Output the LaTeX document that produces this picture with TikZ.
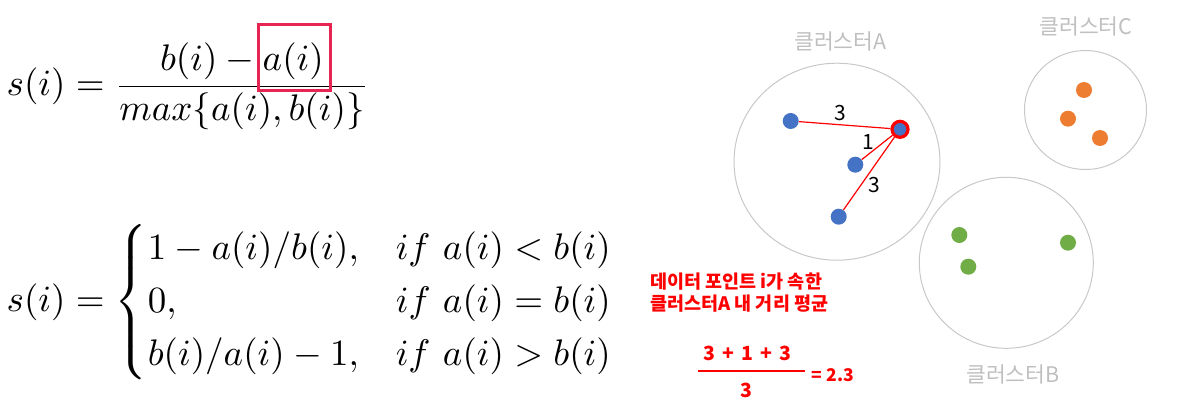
\documentclass[tikz,border=0pt]{standalone}
\usepackage{amsmath}
\usepackage{fontspec}
\newfontfamily\kr{Noto Sans CJK KR}
\usetikzlibrary{shapes.geometric}
\definecolor{boxred}{RGB}{232,36,82}
\definecolor{circgray}{RGB}{200,200,200}
\definecolor{labgray}{RGB}{191,191,191}
\definecolor{blueA}{RGB}{68,114,196}
\definecolor{orangeC}{RGB}{237,125,49}
\definecolor{greenB}{RGB}{112,173,71}
\definecolor{pred}{RGB}{255,0,0}
\tikzset{
  mathnode/.style={inner sep=0pt, scale=3.7},
  cluster/.style={ellipse, draw=circgray, line width=1pt, inner sep=0pt},
  dotnode/.style={circle, inner sep=0pt, minimum size=16pt},
  glabel/.style={text=labgray, inner sep=0pt, font=\kr\fontsize{21.5}{25}\selectfont},
  elabel/.style={inner sep=0pt, font=\kr\fontsize{21}{25}\selectfont},
  redline/.style={draw=pred, line width=1.2pt},
  redtext/.style={text=pred, inner sep=0pt, font=\kr\bfseries\fontsize{18.5}{21.6}\selectfont}
}
\begin{document}
\begin{tikzpicture}[x=1pt,y=-1pt]
\useasboundingbox (0,0) rectangle (1181,409);
% formulas
\node[mathnode, anchor=base west] (f1) at (6,95.5)
  {$\displaystyle s(i)=\frac{b(i)-a(i)}{max\{a(i),b(i)\}}$};
\node[draw=boxred, line width=3pt, minimum width=72pt, minimum height=66pt, inner sep=0pt] (box) at (294.2,58) {};
\node[mathnode, anchor=base west] (f2) at (6,311)
  {$\displaystyle s(i)=\begin{cases}1-a(i)/b(i), & if\ a(i)<b(i)\\ 0, & if\ a(i)=b(i)\\ b(i)/a(i)-1, & if\ a(i)>b(i)\end{cases}$};
% clusters
\node[cluster, minimum width=206pt, minimum height=197pt] (cA) at (837,161.7) {};
\node[cluster, minimum width=122pt, minimum height=119pt] (cC) at (1085.5,110) {};
\node[cluster, minimum width=174pt, minimum height=171pt] (cB) at (1006.3,262.8) {};
\node[glabel] (lA) at (840.5,41.7) {클러스터A};
\node[glabel] (lC) at (1086,26.7) {클러스터C};
\node[glabel] (lB) at (1013,374) {클러스터B};
% points
\node[dotnode, fill=blueA] (a1) at (790.7,121) {};
\node[dotnode, fill=blueA] (a2) at (855.3,164.7) {};
\node[dotnode, fill=blueA] (a3) at (838.7,216.7) {};
\node[dotnode, fill=blueA, draw=pred, line width=3.2pt] (pi) at (900,129.3) {};
\node[dotnode, fill=orangeC] (c1) at (1084,90) {};
\node[dotnode, fill=orangeC] (c2) at (1068,118.7) {};
\node[dotnode, fill=orangeC] (c3) at (1100,138) {};
\node[dotnode, fill=greenB] (b1) at (959.3,235) {};
\node[dotnode, fill=greenB] (b2) at (968.3,266.7) {};
\node[dotnode, fill=greenB] (b3) at (1068,242.7) {};
% distances
\draw[redline] (a1) -- (pi);
\draw[redline] (a2) -- (pi);
\draw[redline] (a3) -- (pi);
\node[elabel] (d1) at (840,112.7) {3};
\node[elabel] (d2) at (868.3,141.7) {1};
\node[elabel] (d3) at (874.3,185) {3};
% red annotation
\node[redtext, anchor=west, align=left] (note) at (650,292.5) {데이터 포인트 i가 속한\\클러스터A 내 거리 평균};
\node[redtext, font=\kr\bfseries\fontsize{19.5}{22}\selectfont] (num) at (747.5,353.3) {3\hspace{7pt}+\hspace{7pt}1\hspace{7pt}+\hspace{7pt}3};
\draw[pred, line width=2.7pt] (698,371) -- (805,371);
\node[redtext, font=\kr\bfseries\fontsize{19.5}{22}\selectfont] (den) at (746.7,390) {3};
\node[redtext, anchor=west, font=\kr\bfseries\fontsize{17.5}{20}\selectfont] (res) at (811.7,375) {= 2.3};
\end{tikzpicture}
\end{document}
